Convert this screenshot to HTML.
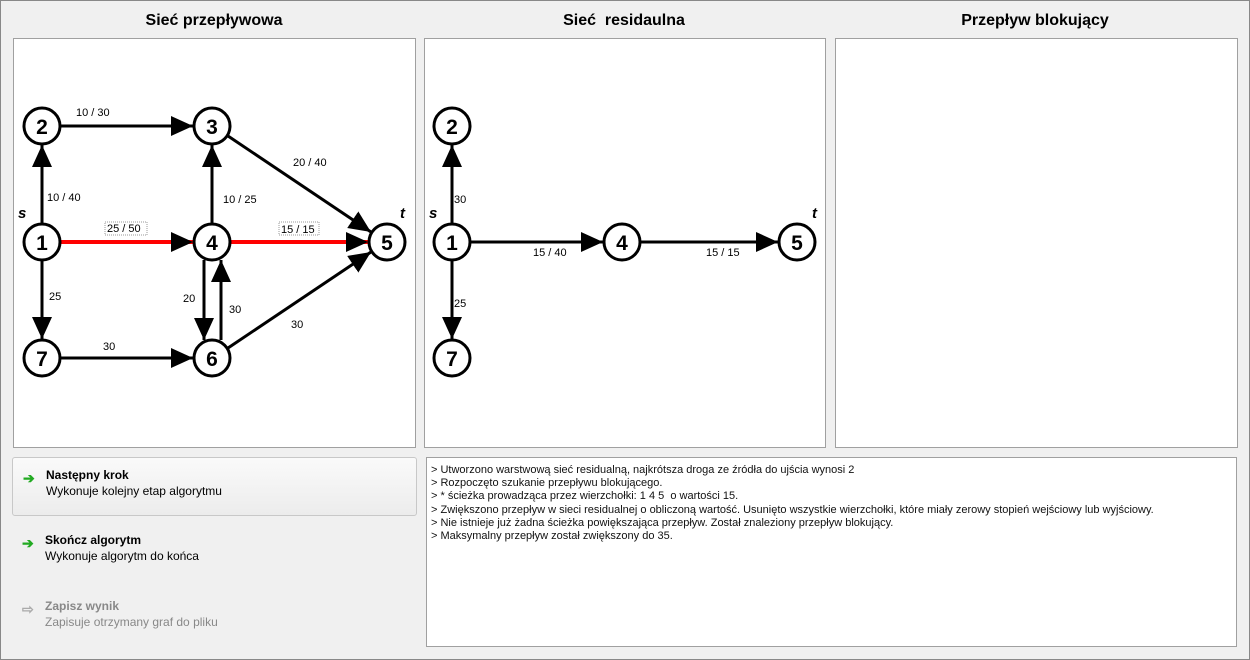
<!DOCTYPE html>
<html><head><meta charset="utf-8"><style>
body{margin:0;width:1250px;height:660px;background:#f0f0f0;font-family:"Liberation Sans",sans-serif;position:relative;overflow:hidden}
.frame{position:absolute;left:0;top:0;width:1248px;height:658px;border:1px solid #888}
.title{position:absolute;top:12px;font-size:16px;font-weight:bold;text-align:center;width:400px}
.panel{position:absolute;top:38px;height:408px;background:#fff;border:1px solid #a0a0a0}
.btn{position:absolute;left:12px;width:404px;height:58px}
.btn b{position:absolute;left:33px;top:10px;font-size:12px}
.btn span{position:absolute;left:33px;top:26px;font-size:12px}
.arr{position:absolute;left:10px;top:12px;color:#2a2;font-size:14px;font-weight:bold}
.log{position:absolute;left:426px;top:457px;width:811px;height:190px;background:#fff;border:1px solid #a0a0a0;font-size:11px;line-height:13.2px;padding:6px 0 0 4px;box-sizing:border-box;color:#111}
</style></head><body>
<div class="frame"></div>
<div class="title" style="left:14px">Sieć przepływowa</div>
<div class="title" style="left:424px">Sieć&nbsp; residaulna</div>
<div class="title" style="left:835px">Przepływ blokujący</div>
<div class="panel" style="left:13px;width:401px"></div>
<div class="panel" style="left:424px;width:400px"></div>
<div class="panel" style="left:835px;width:401px"></div>
<svg width="1250" height="660" style="position:absolute;left:0;top:0" font-family="Liberation Sans,sans-serif">
<defs><marker id="a" markerUnits="userSpaceOnUse" markerWidth="24" markerHeight="22" refX="22" refY="10" orient="auto"><path d="M0,0 L22,10 L0,20z" fill="#000"/></marker></defs>
<g stroke="#000" stroke-width="3" marker-end="url(#a)">
<line x1="42" y1="223" x2="42" y2="145"/>
<line x1="61" y1="126" x2="193" y2="126"/>
<line x1="61" y1="242" x2="193" y2="242" stroke="#f00" stroke-width="4"/>
<line x1="212" y1="223" x2="212" y2="145"/>
<line x1="228" y1="136" x2="371" y2="232"/>
<line x1="231" y1="242" x2="368" y2="242" stroke="#f00" stroke-width="4"/>
<line x1="42" y1="261" x2="42" y2="339"/>
<line x1="61" y1="358" x2="193" y2="358"/>
<line x1="204" y1="260" x2="204" y2="340"/>
<line x1="221" y1="340" x2="221" y2="260"/>
<line x1="228" y1="348" x2="371" y2="252"/>
<line x1="452" y1="223" x2="452" y2="145"/>
<line x1="452" y1="261" x2="452" y2="339"/>
<line x1="471" y1="242" x2="603" y2="242"/>
<line x1="641" y1="242" x2="778" y2="242"/>
</g>
<g fill="#fff" stroke="#000" stroke-width="3">
<circle cx="42" cy="126" r="18"/><circle cx="212" cy="126" r="18"/><circle cx="42" cy="242" r="18"/><circle cx="212" cy="242" r="18"/><circle cx="387" cy="242" r="18"/><circle cx="212" cy="358" r="18"/><circle cx="42" cy="358" r="18"/>
<circle cx="452" cy="126" r="18"/><circle cx="452" cy="242" r="18"/><circle cx="622" cy="242" r="18"/><circle cx="797" cy="242" r="18"/><circle cx="452" cy="358" r="18"/>
</g>
<g font-size="21" font-weight="bold" text-anchor="middle">
<text x="42" y="134">2</text><text x="212" y="134">3</text><text x="42" y="250">1</text><text x="212" y="250">4</text><text x="387" y="250">5</text><text x="212" y="366">6</text><text x="42" y="366">7</text>
<text x="452" y="134">2</text><text x="452" y="250">1</text><text x="622" y="250">4</text><text x="797" y="250">5</text><text x="452" y="366">7</text>
</g>
<g font-size="15" font-weight="bold" font-style="italic">
<text x="18" y="218">s</text><text x="400" y="218">t</text><text x="429" y="218">s</text><text x="812" y="218">t</text>
</g>
<g font-size="11">
<text x="76" y="116">10 / 30</text><text x="47" y="201">10 / 40</text><text x="223" y="203">10 / 25</text><text x="293" y="166">20 / 40</text>
<text x="107" y="232">25 / 50</text><text x="281" y="233">15 / 15</text>
<text x="49" y="300">25</text><text x="183" y="302">20</text><text x="229" y="313">30</text><text x="291" y="328">30</text><text x="103" y="350">30</text>
<text x="454" y="203">30</text><text x="454" y="307">25</text><text x="533" y="256">15 / 40</text><text x="706" y="256">15 / 15</text>
</g>
<rect x="105" y="222" width="42" height="13" fill="none" stroke="#999" stroke-dasharray="1,1"/>
<rect x="279" y="222" width="40" height="13" fill="none" stroke="#999" stroke-dasharray="1,1"/>
</svg>
<div class="btn" style="top:457px;border:1px solid #c8c8c8;border-radius:3px;background:linear-gradient(#fafafa,#ececec);width:403px;height:57px"><div class="arr">➔</div><b>Następny krok</b><span>Wykonuje kolejny etap algorytmu</span></div>
<div class="btn" style="top:523px"><div class="arr">➔</div><b>Skończ algorytm</b><span>Wykonuje algorytm do końca</span></div>
<div class="btn" style="top:589px;color:#888"><div class="arr" style="color:#aaa">⇨</div><b>Zapisz wynik</b><span>Zapisuje otrzymany graf do pliku</span></div>
<div class="log">&gt; Utworzono warstwową sieć residualną, najkrótsza droga ze źródła do ujścia wynosi 2<br>&gt; Rozpoczęto szukanie przepływu blokującego.<br>&gt; * ścieżka prowadząca przez wierzchołki: 1 4 5&nbsp; o wartości 15.<br>&gt; Zwiększono przepływ w sieci residualnej o obliczoną wartość. Usunięto wszystkie wierzchołki, które miały zerowy stopień wejściowy lub wyjściowy.<br>&gt; Nie istnieje już żadna ścieżka powiększająca przepływ. Został znaleziony przepływ blokujący.<br>&gt; Maksymalny przepływ został zwiększony do 35.</div>
</body></html>
